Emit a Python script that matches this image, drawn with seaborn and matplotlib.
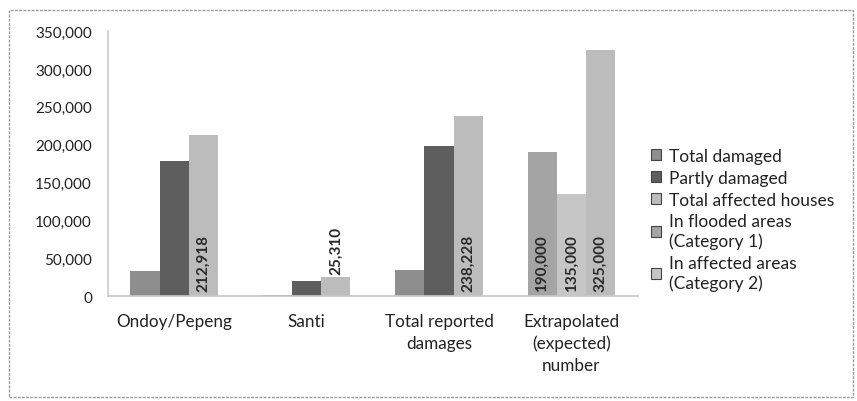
import pandas as pd
import matplotlib.pyplot as plt
import seaborn as sns
from matplotlib.patches import Patch, Rectangle

sns.set_theme(style="white")
plt.rcParams['font.family'] = ['Lato', 'DejaVu Sans']

# data
categories = ["Ondoy/Pepeng", "Santi", "Total reported\ndamages",
              "Extrapolated\n(expected)\nnumber"]
series_names = ["Total damaged", "Partly damaged", "Total affected houses",
                "In flooded areas\n(Category 1)", "In affected areas\n(Category 2)"]
series_colors = ["#8e8e8e", "#5e5e5e", "#bcbcbc", "#a4a4a4", "#c6c6c6"]

# three bars per category: which series each slot holds, and its value
slot_series = [
    [0, 1, 2],
    [0, 1, 2],
    [0, 1, 2],
    [3, 4, 2],
]
slot_values = [
    [33000, 178000, 212918],
    [1500, 20000, 25310],
    [34500, 198000, 238228],
    [190000, 135000, 325000],
]
# which slots carry a value label
slot_labels = [
    [False, False, True],
    [False, False, True],
    [False, False, True],
    [True, True, True],
]

rows = []
for ci, cat in enumerate(categories):
    for si in range(3):
        rows.append({"category": cat, "slot": si,
                     "value": slot_values[ci][si],
                     "series": slot_series[ci][si],
                     "label": slot_labels[ci][si]})
df = pd.DataFrame(rows)

fig = plt.figure(figsize=(8.57, 4.02), dpi=100)
ax = fig.add_axes([0.126, 0.261, 0.618, 0.659])

sns.barplot(data=df, x="category", y="value", hue="slot", order=categories,
            hue_order=[0, 1, 2], width=0.66, dodge=True, legend=False,
            palette=["#888888"] * 3, saturation=1, ax=ax)

# recolour each bar by its series and add labels
for si, cont in enumerate(ax.containers):
    for ci, bar in enumerate(cont):
        r = df[(df["category"] == categories[ci]) & (df["slot"] == si)].iloc[0]
        bar.set_facecolor(series_colors[r["series"]])
        bar.set_edgecolor("none")
        if r["label"]:
            # inside base for tall bars, just above the bar for short ones
            y = 7000 if r["value"] > 80000 else r["value"] + 4000
            ax.text(bar.get_x() + bar.get_width() / 2, y, f"{r['value']:,}",
                    rotation=90, ha="center", va="bottom", fontsize=11,
                    fontweight="bold", color="#2a2a2a")

ax.set_ylim(0, 350000)
ax.set_xlim(-0.5, 3.5)
ax.set_yticks(range(0, 350001, 50000))
ax.set_yticklabels([f"{v:,}" for v in range(0, 350001, 50000)])
ax.set_xlabel("")
ax.set_ylabel("")
ax.tick_params(axis="both", colors="#222222", length=0)
ax.tick_params(axis="y", labelsize=11, pad=11.5)
ax.tick_params(axis="x", labelsize=12.3, pad=12)
for t in ax.get_xticklabels():
    t.set_linespacing(1.45)
for s in ["top", "right"]:
    ax.spines[s].set_visible(False)
ax.spines["left"].set_color("#cfcfcf")
ax.spines["bottom"].set_color("#c8c8c8")

handles = [Patch(facecolor=c, edgecolor="#444444", linewidth=0.8) for c in series_colors]
leg = fig.legend(handles, series_names, loc="upper left", bbox_to_anchor=(0.741, 0.668),
                 frameon=False, fontsize=12.5, handlelength=0.6, handleheight=0.6,
                 handletextpad=0.45, labelspacing=0.33, labelcolor="#222222")
for t in leg.get_texts():
    t.set_linespacing(1.25)

fig.patches.append(Rectangle((0.010, 0.010), 0.985, 0.962, transform=fig.transFigure,
                             fill=False, edgecolor="#9a9a9a", linewidth=1,
                             linestyle=(0, (2, 1))))

fig.savefig("out.png", dpi=100)
